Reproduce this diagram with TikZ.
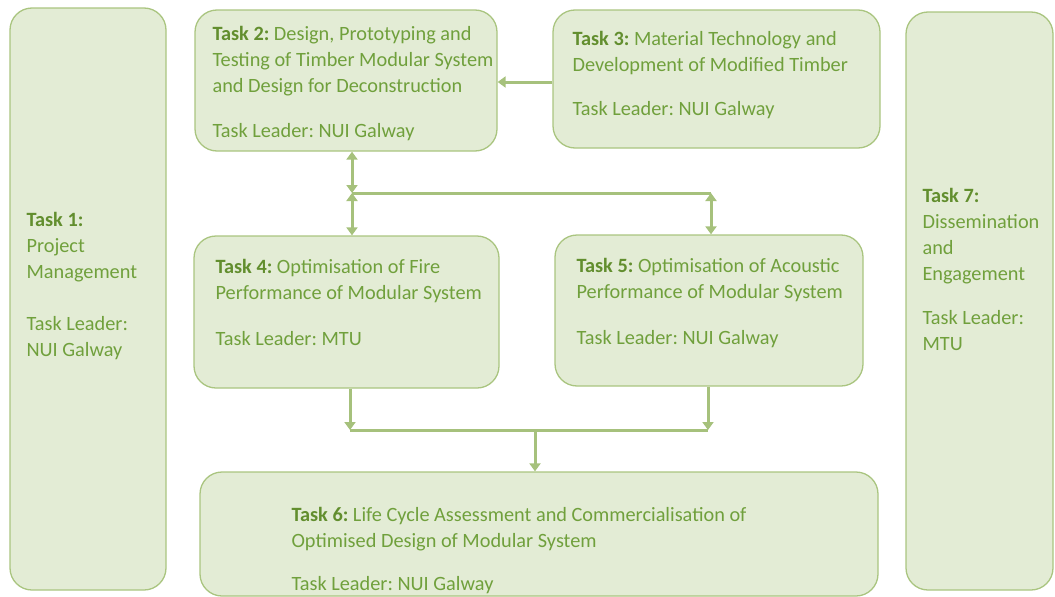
\documentclass[tikz,border=0pt]{standalone}
\usepackage{fontspec}
\setmainfont{Carlito}
\usepackage{tikz}
\usetikzlibrary{calc}
\usetikzlibrary{arrows.meta}

\definecolor{boxfill}{RGB}{227,236,213}
\definecolor{boxline}{RGB}{170,197,128}
\definecolor{flowline}{RGB}{166,193,124}
\definecolor{tasktext}{RGB}{112,160,60}
\definecolor{taskhead}{RGB}{98,142,46}

\newcommand{\taskno}[1]{{\bfseries\color{taskhead}#1}}

\tikzset{
    task/.style={draw=boxline, fill=boxfill, line width=1.3pt,
        rounded corners=22pt, inner sep=0pt},
    tasklabel/.style={anchor=north west, inner sep=0pt, align=left,
        text=tasktext, font=\fontsize{20.3}{26}\selectfont\frenchspacing},
    flow/.style={draw=flowline, line width=3pt,
        -{Triangle[length=8pt,width=11pt]}},
    flowboth/.style={flow, {Triangle[length=8pt,width=11pt]}-{Triangle[length=8pt,width=11pt]}},
    link/.style={draw=flowline, line width=3pt}
}

\begin{document}
\begin{tikzpicture}[x=1pt, y=-1pt]
        \useasboundingbox (0,0) rectangle (1055,597);

        % task boxes
        % ----------
        \node[task, minimum width=156pt, minimum height=582pt] (t1) at (88,299) {};
        \node[task, minimum width=302pt, minimum height=141pt] (t2) at (346,80.5) {};
        \node[task, minimum width=327pt, minimum height=138pt] (t3) at (716.5,79) {};
        \node[task, minimum width=305pt, minimum height=152pt] (t4) at (346.5,312) {};
        \node[task, minimum width=308pt, minimum height=151pt] (t5) at (709,310.5) {};
        \node[task, minimum width=678pt, minimum height=124pt] (t6) at (539,534) {};
        \node[task, minimum width=147pt, minimum height=578pt] (t7) at (979.5,301) {};

        % texts
        % -----
        \node[tasklabel] (l1) at ($(t1.north west)+(17,205)$)
            {\taskno{Task 1:}\\Project\\Management\\[26pt]Task Leader:\\NUI Galway};
        \node[tasklabel] (l2) at ($(t2.north west)+(18,17)$)
            {\taskno{Task 2:} Design, Prototyping and\\Testing of Timber Modular System\\and Design for Deconstruction\\[19pt]Task Leader: NUI Galway};
        \node[tasklabel] (l3) at ($(t3.north west)+(20,22)$)
            {\taskno{Task 3:} Material Technology and\\Development of Modified Timber\\[18pt]Task Leader: NUI Galway};
        \node[tasklabel] (l4) at ($(t4.north west)+(22,24)$)
            {\taskno{Task 4:} Optimisation of Fire\\Performance of Modular System\\[20pt]Task Leader: MTU};
        \node[tasklabel] (l5) at ($(t5.north west)+(22,24)$)
            {\taskno{Task 5:} Optimisation of Acoustic\\Performance of Modular System\\[20pt]Task Leader: NUI Galway};
        \node[tasklabel] (l6) at ($(t6.north west)+(92,36)$)
            {\taskno{Task 6:} Life Cycle Assessment and Commercialisation of\\Optimised Design of Modular System\\[17pt]Task Leader: NUI Galway};
        \node[tasklabel] (l7) at ($(t7.north west)+(17,177)$)
            {\taskno{Task 7:}\\Dissemination\\and\\Engagement\\[18pt]Task Leader:\\MTU};

        % connectors
        % ----------
        % junctions
        \coordinate (j1) at (352,193);
        \coordinate (j2) at (711,193);
        \coordinate (k1) at (350,430);
        \coordinate (k2) at (708,430);
        \coordinate (k3) at (535,430);

        % task 3 feeds task 2
        \draw[flow] (t3.west |- 0,82) -- (t2.east |- 0,82);

        % task 2 exchanges with tasks 4 and 5
        \draw[flowboth] (j1 |- t2.south) -- (j1);
        \draw[flowboth] (j1) -- (j1 |- t4.north);
        \draw[link] (j1) -- (j2);
        \draw[flowboth] (j2) -- (j2 |- t5.north);

        % tasks 4 and 5 feed task 6
        \draw[flow] (k1 |- t4.south) -- (k1);
        \draw[flow] (k2 |- t5.south) -- (k2);
        \draw[link] (k1) -- (k2);
        \draw[flow] (k3) -- (k3 |- t6.north);

    \end{tikzpicture}
\end{document}
